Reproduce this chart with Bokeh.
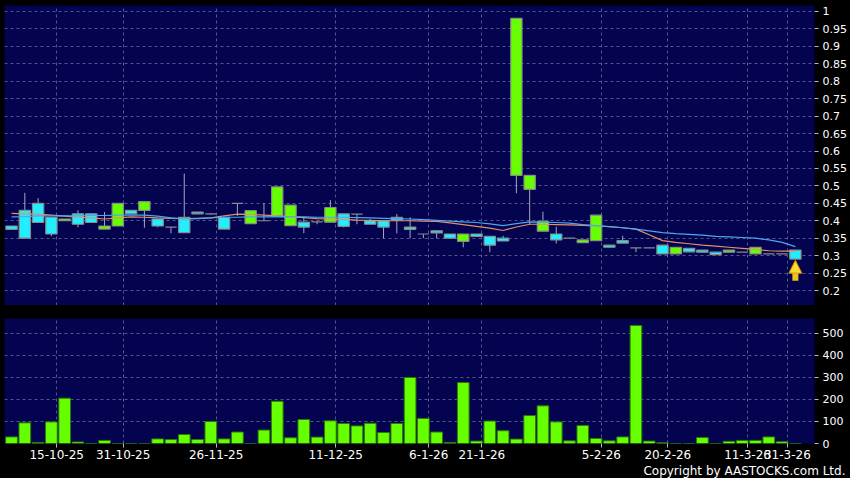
from bokeh.plotting import figure
from bokeh.layouts import column
from bokeh.models import (ColumnDataSource, FixedTicker, Title, Arrow, NormalHead,
                          NumeralTickFormatter, Range1d, Grid)
from bokeh.embed import file_html
from bokeh.resources import INLINE

# ---------------- data ----------------
opens = [0.385, 0.43, 0.45, 0.41, 0.40, 0.42, 0.42, 0.376, 0.385, 0.43,
         0.43, 0.405, 0.382, 0.41, 0.425, 0.42, 0.41, 0.45, 0.392, 0.40,
         0.414, 0.386, 0.396, 0.397, 0.396, 0.42, 0.419, 0.40, 0.40, 0.41,
         0.382, 0.362, 0.371, 0.362, 0.341, 0.362, 0.355, 0.35, 0.53, 0.49,
         0.37, 0.362, 0.35, 0.337, 0.343, 0.33, 0.343, 0.322, 0.322, 0.33,
         0.305, 0.321, 0.316, 0.31, 0.31, 0.31, 0.305, 0.305, 0.305, 0.316]
highs = [0.385, 0.48, 0.465, 0.41, 0.405, 0.43, 0.42, 0.425, 0.45, 0.43,
         0.455, 0.405, 0.382, 0.535, 0.425, 0.42, 0.41, 0.45, 0.429, 0.45,
         0.497, 0.445, 0.41, 0.397, 0.459, 0.42, 0.419, 0.405, 0.40, 0.419,
         0.41, 0.362, 0.371, 0.362, 0.362, 0.362, 0.355, 0.357, 0.98, 0.53,
         0.426, 0.383, 0.35, 0.345, 0.416, 0.33, 0.357, 0.322, 0.322, 0.33,
         0.324, 0.321, 0.316, 0.31, 0.316, 0.31, 0.324, 0.305, 0.305, 0.316]
lows = [0.375, 0.35, 0.395, 0.356, 0.40, 0.381, 0.395, 0.376, 0.385, 0.42,
        0.38, 0.381, 0.364, 0.366, 0.42, 0.417, 0.376, 0.414, 0.392, 0.40,
        0.414, 0.386, 0.364, 0.39, 0.396, 0.381, 0.39, 0.39, 0.35, 0.364,
        0.35, 0.35, 0.35, 0.35, 0.324, 0.355, 0.31, 0.342, 0.479, 0.39,
        0.37, 0.335, 0.35, 0.337, 0.343, 0.324, 0.336, 0.31, 0.322, 0.305,
        0.305, 0.311, 0.31, 0.303, 0.31, 0.31, 0.305, 0.305, 0.305, 0.29]
closes = [0.375, 0.35, 0.395, 0.362, 0.405, 0.39, 0.395, 0.385, 0.45, 0.42,
          0.455, 0.385, 0.382, 0.366, 0.42, 0.42, 0.376, 0.45, 0.429, 0.40,
          0.497, 0.445, 0.382, 0.397, 0.438, 0.384, 0.419, 0.39, 0.382, 0.402,
          0.375, 0.362, 0.365, 0.35, 0.362, 0.355, 0.33, 0.342, 0.98, 0.53,
          0.398, 0.345, 0.35, 0.345, 0.416, 0.324, 0.336, 0.322, 0.322, 0.305,
          0.324, 0.311, 0.31, 0.303, 0.316, 0.31, 0.324, 0.305, 0.305, 0.29]
volumes = [30, 94, 5, 98, 206, 7, 0, 14, 0, 0,
           0, 21, 18, 41, 18, 100, 21, 52, 0, 61,
           192, 26, 109, 29, 103, 91, 80, 92, 50, 91,
           300, 114, 52, 5, 277, 11, 102, 58, 20, 127,
           171, 98, 12, 82, 23, 12, 30, 536, 11, 3,
           0, 0, 27, 0, 10, 14, 14, 30, 8, 0]
ma_blue = [0.411, 0.412, 0.414, 0.414, 0.414, 0.414, 0.415, 0.415, 0.416, 0.416,
           0.416, 0.413, 0.408, 0.405, 0.406, 0.408, 0.41, 0.41, 0.411, 0.411,
           0.412, 0.411, 0.411, 0.41, 0.41, 0.41, 0.409, 0.408, 0.407, 0.406,
           0.405, 0.403, 0.401, 0.399, 0.397, 0.395, 0.391, 0.386, 0.392, 0.397,
           0.396, 0.395, 0.393, 0.389, 0.386, 0.383, 0.38, 0.376, 0.371, 0.366,
           0.363, 0.361, 0.359, 0.355, 0.354, 0.352, 0.35, 0.345, 0.338, 0.326]
ma_orange = [0.421, 0.42, 0.419, 0.416, 0.413, 0.41, 0.408, 0.405, 0.408, 0.411,
             0.41, 0.408, 0.407, 0.406, 0.407, 0.408, 0.414, 0.419, 0.418, 0.416,
             0.414, 0.411, 0.409, 0.406, 0.405, 0.404, 0.402, 0.401, 0.40, 0.40,
             0.40, 0.399, 0.398, 0.394, 0.389, 0.384, 0.379, 0.372, 0.382, 0.39,
             0.39, 0.389, 0.388, 0.387, 0.385, 0.383, 0.38, 0.376, 0.36, 0.343,
             0.338, 0.334, 0.33, 0.327, 0.324, 0.321, 0.318, 0.314, 0.313, 0.313]
tick_slots = [3, 8, 15, 24, 31, 35, 44, 49, 55, 58]
tick_labels = ["15-10-25", "31-10-25", "26-11-25", "11-12-25", "6-1-26",
               "21-1-26", "5-2-26", "20-2-26", "11-3-26", "31-3-26"]
price_ticks = [0.2, 0.25, 0.3, 0.35, 0.4, 0.45, 0.5, 0.55, 0.6, 0.65,
               0.7, 0.75, 0.8, 0.85, 0.9, 0.95, 1.0]
vol_ticks = [0, 100, 200, 300, 400, 500]

# ---------------- styling ----------------
NAVY = "#03034f"
GRID = "#55558a"
GREEN = "#66ff00"
CYAN = "#22eeff"
FONT = "DejaVu Sans"

n = len(closes)
idx = list(range(n))
colors = []
for o, c in zip(opens, closes):
    if c > o:
        colors.append(GREEN)
    elif c < o:
        colors.append(CYAN)
    else:
        colors.append("#9a9aa8")

src = ColumnDataSource(dict(
    x=idx, open=opens, high=highs, low=lows, close=closes,
    top=[max(o, c) for o, c in zip(opens, closes)],
    bottom=[min(o, c) for o, c in zip(opens, closes)],
    color=colors, vol=volumes, ma1=ma_blue, ma2=ma_orange))

xr = Range1d(-0.53, 60.44)
xticks = [s + 0.4 for s in tick_slots]


def style(p, yticks):
    p.background_fill_color = NAVY
    p.border_fill_color = "black"
    p.outline_line_color = None
    ax = p.yaxis[0]
    ax.ticker = FixedTicker(ticks=yticks)
    ax.axis_line_color = None
    ax.major_tick_line_color = "#bbbbbb"
    ax.major_tick_out = 4
    ax.major_tick_in = 0
    ax.minor_tick_line_color = None
    ax.major_label_text_color = "white"
    ax.major_label_text_font = FONT
    ax.major_label_text_font_size = "11px"
    ax.major_label_standoff = 4
    xg = [g for g in p.grid if g.dimension == 0]
    if xg:
        xg[0].ticker = FixedTicker(ticks=xticks)
    else:
        p.add_layout(Grid(dimension=0, ticker=FixedTicker(ticks=xticks)))
    for g in p.grid:
        g.grid_line_color = GRID
        g.grid_line_dash = "3 3"
        g.grid_line_width = 1


# ---------------- price panel ----------------
p1 = figure(width=850, height=305, x_range=xr, y_range=Range1d(0.157, 1.0172),
            x_axis_location=None, y_axis_location="right",
            output_backend="svg", toolbar_location=None,
            min_border_left=4, min_border_right=36, min_border_top=5, min_border_bottom=0)
style(p1, price_ticks)
p1.yaxis[0].formatter = NumeralTickFormatter(format="0.[00]")

p1.segment(x0="x", y0="low", x1="x", y1="high", source=src, line_color="#a8a8b8", line_width=1)
p1.vbar(x="x", top="top", bottom="bottom", width=0.85, source=src,
        fill_color="color", line_color="#8a8a8a", line_width=1.2)
p1.line(x="x", y="ma2", source=src, line_color="#e0906a", line_width=1.2)
p1.line(x="x", y="ma1", source=src, line_color="#4aa8ee", line_width=1.2)

last = n - 1
p1.add_layout(Arrow(x_start=idx[last], y_start=lows[last] - 0.062,
                    x_end=idx[last], y_end=lows[last] - 0.003,
                    line_color="#f2c01c", line_width=6,
                    end=NormalHead(size=13, fill_color="#ffd830", line_color="#c88a00", line_width=1)))

# ---------------- volume panel ----------------
p2 = figure(width=850, height=173, x_range=xr, y_range=Range1d(0, 568),
            y_axis_location="right", output_backend="svg", toolbar_location=None,
            min_border_left=4, min_border_right=36, min_border_top=13, min_border_bottom=35)
style(p2, vol_ticks)
xa = p2.xaxis[0]
xa.ticker = FixedTicker(ticks=xticks)
xa.major_label_overrides = {t: l for t, l in zip(xticks, tick_labels)}
xa.axis_line_color = None
xa.major_tick_line_color = "#bbbbbb"
xa.major_tick_out = 4
xa.major_tick_in = 0
xa.minor_tick_line_color = None
xa.major_label_text_color = "white"
xa.major_label_text_font = FONT
xa.major_label_text_font_size = "12px"
xa.major_label_standoff = 2

p2.vbar(x="x", top="vol", bottom=0, width=0.88, source=src,
        fill_color=GREEN, line_color="#2c7a08", line_width=1)

p2.add_layout(Title(text="Copyright by AASTOCKS.com Ltd.", align="right", offset=-31,
                    standoff=0, text_color="white", text_font=FONT,
                    text_font_size="12px", text_font_style="normal"), "below")

layout = column(p1, p2, spacing=0, styles={"background-color": "black"})
open("out.html", "w").write(file_html(layout, INLINE))
